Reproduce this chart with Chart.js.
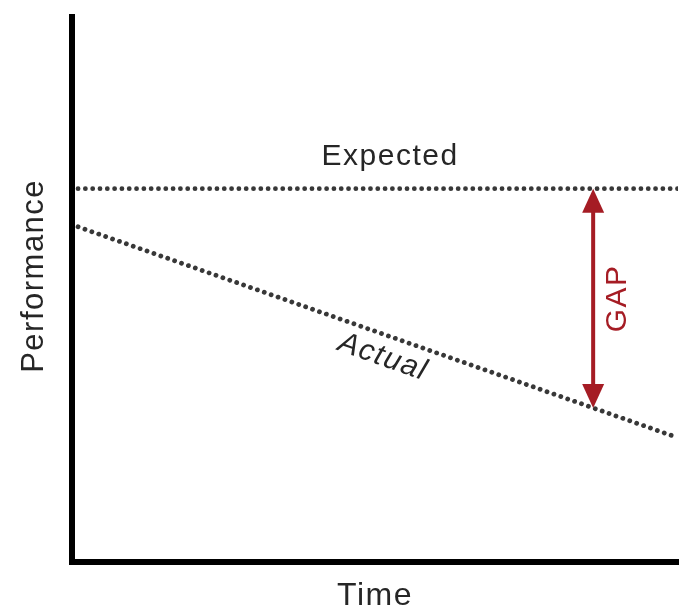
<!DOCTYPE html>
<html>
<head>
<meta charset="utf-8">
<script src="https://cdn.jsdelivr.net/npm/chart.js@4.4.1/dist/chart.umd.min.js"></script>
<style>
  html, body { margin: 0; padding: 0; background: #fff; }
  #wrap { width: 686px; height: 612px; }
</style>
</head>
<body>
<div id="wrap"><canvas id="chart"></canvas></div>
<script>
// Conceptual chart: time runs 0..100, performance 0..100
const timeX = [1, 100];
const expectedY = [68.5, 68.5];
const actualY = [61.5, 22.8];
const gapAt = 86;

const labelFont = "'Liberation Sans', Arial, sans-serif";
const textColor = '#262626';
const dotColor = '#383838';
const gapColor = '#a51c24';

function toPoints(xs, ys) {
  return xs.map((x, i) => ({ x: x, y: ys[i] }));
}

// value of a straight series at a given x
function valueAt(ys, x) {
  const t = (x - timeX[0]) / (timeX[1] - timeX[0]);
  return ys[0] + (ys[1] - ys[0]) * t;
}

const notes = {
  id: 'notes',
  beforeDraw(chart) {
    // the reference lettering is a bit looser than Liberation Sans
    chart.ctx.letterSpacing = '1.5px';
  },
  afterDatasetsDraw(chart) {
    const ctx = chart.ctx;
    const xs = chart.scales.x;
    const ys = chart.scales.y;
    const area = chart.chartArea;

    ctx.save();
    ctx.letterSpacing = '1.5px';

    // y axis title, sits a little above the middle of the axis
    ctx.save();
    ctx.translate(area.left - 38, area.top + (area.bottom - area.top) * 0.475);
    ctx.rotate(-Math.PI / 2);
    ctx.fillStyle = textColor;
    ctx.font = '31px ' + labelFont;
    ctx.textAlign = 'center';
    ctx.textBaseline = 'middle';
    ctx.fillText('Performance', 0, 0);
    ctx.restore();

    // GAP arrow between the two lines
    const ax = xs.getPixelForValue(gapAt);
    const top = ys.getPixelForValue(valueAt(expectedY, gapAt));
    const bot = ys.getPixelForValue(valueAt(actualY, gapAt));
    const headH = 24, headW = 11;
    ctx.strokeStyle = gapColor;
    ctx.fillStyle = gapColor;
    ctx.lineWidth = 4;
    ctx.beginPath();
    ctx.moveTo(ax, top + headH - 2);
    ctx.lineTo(ax, bot - headH + 2);
    ctx.stroke();
    ctx.beginPath();
    ctx.moveTo(ax, top);
    ctx.lineTo(ax - headW, top + headH);
    ctx.lineTo(ax + headW, top + headH);
    ctx.closePath();
    ctx.fill();
    ctx.beginPath();
    ctx.moveTo(ax, bot);
    ctx.lineTo(ax - headW, bot - headH);
    ctx.lineTo(ax + headW, bot - headH);
    ctx.closePath();
    ctx.fill();

    // GAP text
    ctx.save();
    ctx.translate(ax + 25, (top + bot) / 2);
    ctx.rotate(-Math.PI / 2);
    ctx.font = '30px ' + labelFont;
    ctx.textAlign = 'center';
    ctx.textBaseline = 'middle';
    ctx.fillText('GAP', 0, 0);
    ctx.restore();

    // Expected label above its line
    ctx.fillStyle = textColor;
    ctx.font = '30px ' + labelFont;
    ctx.textAlign = 'center';
    ctx.textBaseline = 'alphabetic';
    ctx.fillText('Expected', xs.getPixelForValue(52.5), ys.getPixelForValue(expectedY[0]) - 24);

    // Actual label along its line
    const x0 = xs.getPixelForValue(timeX[0]), y0 = ys.getPixelForValue(actualY[0]);
    const x1 = xs.getPixelForValue(timeX[1]), y1 = ys.getPixelForValue(actualY[1]);
    const ang = Math.atan2(y1 - y0, x1 - x0);
    const mx = 52.5;
    ctx.translate(xs.getPixelForValue(mx), ys.getPixelForValue(valueAt(actualY, mx)));
    ctx.rotate(ang);
    ctx.font = 'italic 30px ' + labelFont;
    ctx.textBaseline = 'top';
    ctx.fillText('Actual', 0, 7);
    ctx.restore();
  }
};

const dotted = {
  borderColor: dotColor,
  borderWidth: 4.8,
  borderCapStyle: 'round',
  borderDash: [0.01, 7.3],
  pointRadius: 0,
  showLine: true,
  fill: false
};

new Chart(document.getElementById('chart'), {
  type: 'scatter',
  data: {
    datasets: [
      Object.assign({ label: 'Expected', data: toPoints(timeX, expectedY) }, dotted),
      Object.assign({ label: 'Actual', data: toPoints(timeX, actualY) }, dotted)
    ]
  },
  options: {
    responsive: true,
    maintainAspectRatio: false,
    animation: false,
    layout: { padding: { left: 72, right: 8, top: 17, bottom: 0 } },
    plugins: {
      legend: { display: false },
      tooltip: { enabled: false }
    },
    scales: {
      x: {
        type: 'linear',
        min: 0,
        max: 100,
        grid: { display: false, drawTicks: false },
        ticks: { display: false },
        border: { display: true, color: '#000', width: 6 },
        title: {
          display: true,
          text: 'Time',
          color: textColor,
          font: { family: labelFont, size: 32, lineHeight: 1 },
          padding: { top: 18, bottom: 0 }
        }
      },
      y: {
        type: 'linear',
        min: 0,
        max: 100,
        grid: { display: false, drawTicks: false },
        ticks: { display: false },
        border: { display: true, color: '#000', width: 6 },
        title: { display: false }
      }
    }
  },
  plugins: [notes]
});
</script>
</body>
</html>
